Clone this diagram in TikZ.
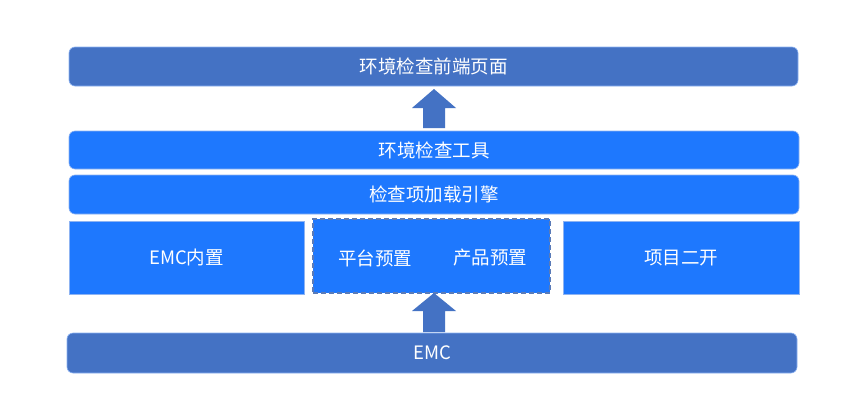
\documentclass[tikz,border=0pt]{standalone}
\usepackage{fontspec}
\setmainfont{Noto Sans CJK SC}
\definecolor{darkblue}{HTML}{4472C4}
\definecolor{brightblue}{HTML}{1E78FE}
\definecolor{edgeblue}{HTML}{8DB3F2}
\definecolor{dashblue}{HTML}{5A7BB8}
\tikzset{
  layer/.style={rectangle, rounded corners=6pt, draw=edgeblue, line width=0.6pt, text=white, font=\fontsize{18.5}{20}\selectfont, inner sep=0pt},
  darklayer/.style={layer, fill=darkblue},
  brightlayer/.style={layer, fill=brightblue},
  flatbox/.style={layer, fill=brightblue, rounded corners=0pt},
  dashbox/.style={rectangle, fill=brightblue, draw=dashblue, dash pattern=on 5pt off 3pt, line width=1.6pt, inner sep=0pt},
  label/.style={text=white, font=\fontsize{18.5}{20}\selectfont, inner sep=0pt}
}
\newcommand\blockup[3]{% #1 tip coordinate name, #2 head depth, #3 total length
  \fill[darkblue] (#1) -- ++(22,#2) -- ++(-11,0) -- ++(0,#3-#2) -- ++(-22,0) -- ++(0,-#3+#2) -- ++(-11,0) -- cycle;
}
\begin{document}
\begin{tikzpicture}[x=1pt,y=-1pt]
\useasboundingbox (0,0) rectangle (865,418);
\fill[white] (0,0) rectangle (865,418);

\node[darklayer, minimum width=729pt, minimum height=39pt] (front) at (433.5,66.5) {环境检查前端页面};
\node[brightlayer, minimum width=730pt, minimum height=38pt] (tool) at (434,150) {环境检查工具};
\node[brightlayer, minimum width=730pt, minimum height=39pt] (engine) at (434,194.5) {检查项加载引擎};
\node[flatbox, minimum width=235pt, minimum height=73pt] (builtin) at (186.5,257.5) {EMC内置};
\node[dashbox, minimum width=237pt, minimum height=74pt] (preset) at (431.5,256) {};
\node[label] (platform) at (375,258) {平台预置};
\node[label] (product) at (490,258) {产品预置};
\node[flatbox, minimum width=236pt, minimum height=73pt] (project) at (681,257.5) {项目二开};
\node[darklayer, minimum width=730pt, minimum height=40pt] (emc) at (432,353) {EMC};

\coordinate (tipA) at (434,89);
\blockup{tipA}{19}{39}
\coordinate (tipB) at (434,293);
\blockup{tipB}{18}{39}
\end{tikzpicture}
\end{document}
